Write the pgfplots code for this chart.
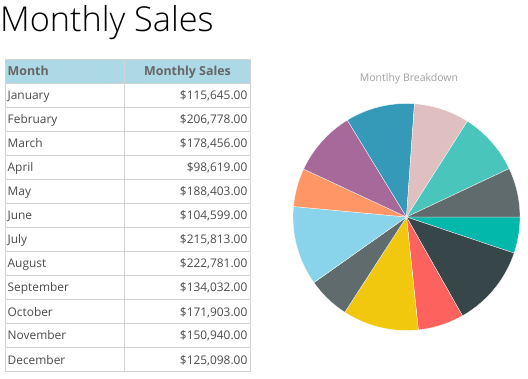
\documentclass[border=0pt]{standalone}
\usepackage{fontspec}
\setmainfont{Open Sans}
\newfontfamily\titlefont{Open Sans Light}
\usepackage{pgfplots}
\pgfplotsset{compat=1.18}
\usepgfplotslibrary{polar}
\definecolor{headerblue}{HTML}{ADD8E6}
\definecolor{gridgray}{HTML}{D3D3D3}
\definecolor{bodytext}{HTML}{4A4A4A}
\definecolor{headtext}{HTML}{666666}
\definecolor{pietitle}{HTML}{A0A0A0}
\definecolor{cApr}{HTML}{01B8AA}
\definecolor{cAug}{HTML}{374649}
\definecolor{cDec}{HTML}{FD625E}
\definecolor{cFeb}{HTML}{F2C80F}
\definecolor{cJan}{HTML}{5F6B6D}
\definecolor{cJul}{HTML}{8AD4EB}
\definecolor{cJun}{HTML}{FE9666}
\definecolor{cMar}{HTML}{A66999}
\definecolor{cMay}{HTML}{3599B8}
\definecolor{cNov}{HTML}{DFBFBF}
\definecolor{cOct}{HTML}{4AC5BB}
\definecolor{cSep}{HTML}{5F6B6D}
% monthly sales (thousands) in the pie's (alphabetical) order
\def\vApr{98.619}
\def\vAug{222.781}
\def\vDec{125.098}
\def\vFeb{206.778}
\def\vJan{115.645}
\def\vJul{215.813}
\def\vJun{104.599}
\def\vMar{178.456}
\def\vMay{188.403}
\def\vNov{150.940}
\def\vOct{171.903}
\def\vSep{134.032}
\begin{document}
\begin{tikzpicture}[x=1pt,y=1pt]
\useasboundingbox (0,0) rectangle (528,378);
\pgfmathsetmacro\tot{\vApr+\vAug+\vDec+\vFeb+\vJan+\vJul+\vJun+\vMar+\vMay+\vNov+\vOct+\vSep}
\pgfmathsetmacro\cA{\vApr/\tot*360}
\pgfmathsetmacro\cB{\cA+\vAug/\tot*360}
\pgfmathsetmacro\cC{\cB+\vDec/\tot*360}
\pgfmathsetmacro\cD{\cC+\vFeb/\tot*360}
\pgfmathsetmacro\cE{\cD+\vJan/\tot*360}
\pgfmathsetmacro\cF{\cE+\vJul/\tot*360}
\pgfmathsetmacro\cG{\cF+\vJun/\tot*360}
\pgfmathsetmacro\cH{\cG+\vMar/\tot*360}
\pgfmathsetmacro\cI{\cH+\vMay/\tot*360}
\pgfmathsetmacro\cJ{\cI+\vNov/\tot*360}
\pgfmathsetmacro\cK{\cJ+\vOct/\tot*360}
% title
\node[anchor=base west, inner sep=0, font=\titlefont\fontsize{34.3}{40}\selectfont] at (0,346) {Monthly Sales};
% table
\fill[headerblue] (5,318) rectangle (250,294.7);
\foreach \k in {0,...,11} {\draw[gridgray, line width=1pt] (5,294.7-24*\k) -- (250,294.7-24*\k);}
\draw[gridgray, line width=1pt] (124.3,318) -- (124.3,6.7);
\draw[gridgray, line width=1pt] (5,318) rectangle (250,6.7);
\node[anchor=base west, inner sep=0, text=headtext, font=\bfseries\fontsize{12.4}{14}\selectfont] at (7.5,302) {Month};
\node[anchor=base, inner sep=0, text=headtext, font=\bfseries\fontsize{12.4}{14}\selectfont] at (187.5,302) {Monthly Sales};
\foreach \m/\v [count=\i] in {January/{\$115,645.00}, February/{\$206,778.00}, March/{\$178,456.00}, April/{\$98,619.00}, May/{\$188,403.00}, June/{\$104,599.00}, July/{\$215,813.00}, August/{\$222,781.00}, September/{\$134,032.00}, October/{\$171,903.00}, November/{\$150,940.00}, December/{\$125,098.00}} {
  \pgfmathsetmacro\yb{294.7-24*(\i-1)-16.7}
  \node[anchor=base west, inner sep=0, text=bodytext, font=\fontsize{11.9}{14}\selectfont] at (7.5,\yb) {\m};
  \node[anchor=base east, inner sep=0, text=bodytext, font=\fontsize{11.9}{14}\selectfont] at (247.5,\yb) {\v};
}
% pie title
\node[anchor=base, inner sep=0, text=pietitle, font=\fontsize{10.5}{12}\selectfont] at (409,296) {Montlhy Breakdown};
% pie
\begin{polaraxis}[at={(406.5pt,161pt)}, anchor=origin, hide axis, scale only axis,
  width=227pt, height=227pt, ymin=0, ymax=1, xmin=0, xmax=360, clip=false]
\addplot[fill=cApr, draw=white, line width=0.3pt, domain=-\cA:0, samples=20] {1} -- (axis cs:0,0) -- cycle;
\addplot[fill=cAug, draw=white, line width=0.3pt, domain=-\cB:-\cA, samples=30] {1} -- (axis cs:0,0) -- cycle;
\addplot[fill=cDec, draw=white, line width=0.3pt, domain=-\cC:-\cB, samples=20] {1} -- (axis cs:0,0) -- cycle;
\addplot[fill=cFeb, draw=white, line width=0.3pt, domain=-\cD:-\cC, samples=30] {1} -- (axis cs:0,0) -- cycle;
\addplot[fill=cJan, draw=white, line width=0.3pt, domain=-\cE:-\cD, samples=20] {1} -- (axis cs:0,0) -- cycle;
\addplot[fill=cJul, draw=white, line width=0.3pt, domain=-\cF:-\cE, samples=30] {1} -- (axis cs:0,0) -- cycle;
\addplot[fill=cJun, draw=white, line width=0.3pt, domain=-\cG:-\cF, samples=20] {1} -- (axis cs:0,0) -- cycle;
\addplot[fill=cMar, draw=white, line width=0.3pt, domain=-\cH:-\cG, samples=30] {1} -- (axis cs:0,0) -- cycle;
\addplot[fill=cMay, draw=white, line width=0.3pt, domain=-\cI:-\cH, samples=30] {1} -- (axis cs:0,0) -- cycle;
\addplot[fill=cNov, draw=white, line width=0.3pt, domain=-\cJ:-\cI, samples=20] {1} -- (axis cs:0,0) -- cycle;
\addplot[fill=cOct, draw=white, line width=0.3pt, domain=-\cK:-\cJ, samples=30] {1} -- (axis cs:0,0) -- cycle;
\addplot[fill=cSep, draw=white, line width=0.3pt, domain=-360:-\cK, samples=20] {1} -- (axis cs:0,0) -- cycle;
\end{polaraxis}
\end{tikzpicture}
\end{document}
